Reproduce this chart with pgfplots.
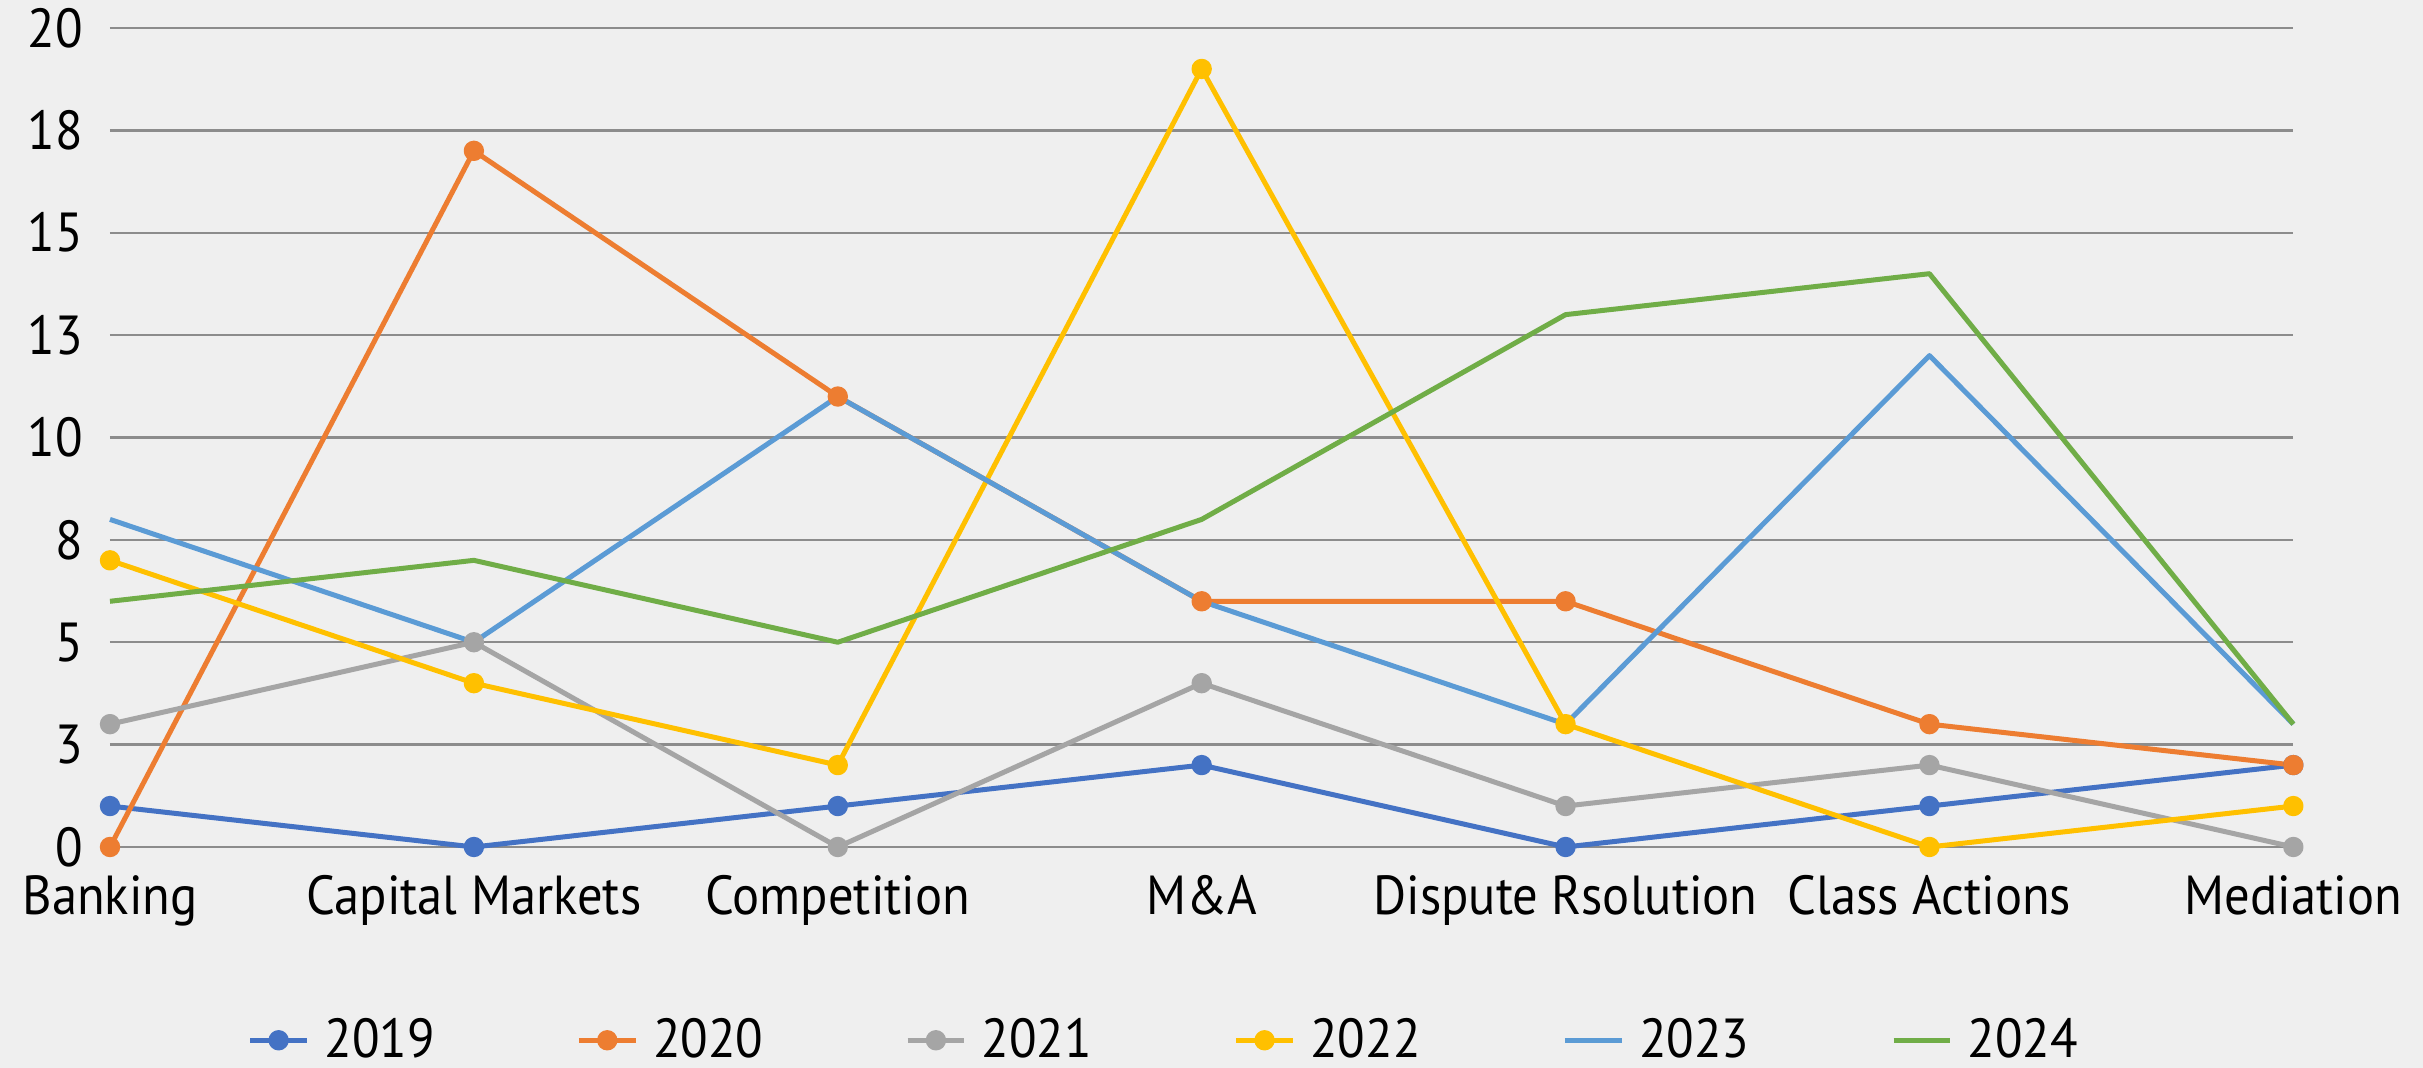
\documentclass[border=0pt]{standalone}
\usepackage{pgfplots}
\pgfplotsset{compat=1.18}
\usepackage{fontspec}
\setmainfont{PT Sans}[FakeStretch=0.92]
\definecolor{c19}{HTML}{4472C4}
\definecolor{c20}{HTML}{ED7D31}
\definecolor{c21}{HTML}{A5A5A5}
\definecolor{c22}{HTML}{FFC000}
\definecolor{c23}{HTML}{5B9BD5}
\definecolor{c24}{HTML}{70AD47}
\definecolor{bg}{HTML}{EFEFEF}
\definecolor{gridc}{HTML}{8C8C8C}
\begin{document}
\begin{tikzpicture}
\useasboundingbox (-33pt,-66.3pt) rectangle (693.9pt,254.1pt);
\fill[bg] (-33pt,-66.3pt) rectangle (693.9pt,254.1pt);
\begin{axis}[
  at={(0pt,0pt)}, anchor=south west,
  scale only axis, width=655pt, height=245.7pt,
  xmin=0, xmax=6, ymin=0, ymax=20,
  axis line style={draw=none}, tick style={draw=none},
  ymajorgrids, grid style={gridc, line width=0.7pt},
  ytick={0,2.5,5,7.5,10,12.5,15,17.5,20},
  yticklabels={0,3,5,8,10,13,15,18,20},
  xtick={0,1,2,3,4,5,6},
  xticklabels={Banking,Capital Markets,Competition,M\&A,Dispute Rsolution,Class Actions,Mediation},
  /pgf/number format/assume math mode=true,
  tick label style={font=\fontsize{16.5}{18}\selectfont},
  xticklabel style={anchor=base, yshift=-20.3pt, inner sep=1pt},
  yticklabel style={anchor=east, xshift=-7pt, inner sep=1pt},
  clip=false,
  every axis plot/.append style={line width=1.5pt, line join=round},
  legend style={at={(0.483,-0.236)}, anchor=center, draw=none, fill=none,
    font=\fontsize{16.5}{18}\selectfont, legend columns=6,
    nodes={inner sep=1pt},
    /tikz/every odd column/.append style={column sep=3.5pt},
    /tikz/every even column/.append style={column sep=41.5pt}},
  legend image code/.code={\draw[mark repeat=2,mark phase=2,#1] plot coordinates {(0pt,0pt) (8.5pt,0pt) (17pt,0pt)};},
]
\addplot[c19, mark=*, mark size=2.3pt, mark options={fill=c19, draw=c19}] coordinates {(0,1) (1,0) (2,1) (3,2) (4,0) (5,1) (6,2)};
\addlegendentry{2019}
\addplot[c20, mark=*, mark size=2.3pt, mark options={fill=c20, draw=c20}] coordinates {(0,0) (1,17) (2,11) (3,6) (4,6) (5,3) (6,2)};
\addlegendentry{2020}
\addplot[c21, mark=*, mark size=2.3pt, mark options={fill=c21, draw=c21}] coordinates {(0,3) (1,5) (2,0) (3,4) (4,1) (5,2) (6,0)};
\addlegendentry{2021}
\addplot[c22, mark=*, mark size=2.3pt, mark options={fill=c22, draw=c22}] coordinates {(0,7) (1,4) (2,2) (3,19) (4,3) (5,0) (6,1)};
\addlegendentry{2022}
\addplot[c23, no markers] coordinates {(0,8) (1,5) (2,11) (3,6) (4,3) (5,12) (6,3)};
\addlegendentry{2023}
\addplot[c24, no markers] coordinates {(0,6) (1,7) (2,5) (3,8) (4,13) (5,14) (6,3)};
\addlegendentry{2024}
\end{axis}
\end{tikzpicture}
\end{document}
